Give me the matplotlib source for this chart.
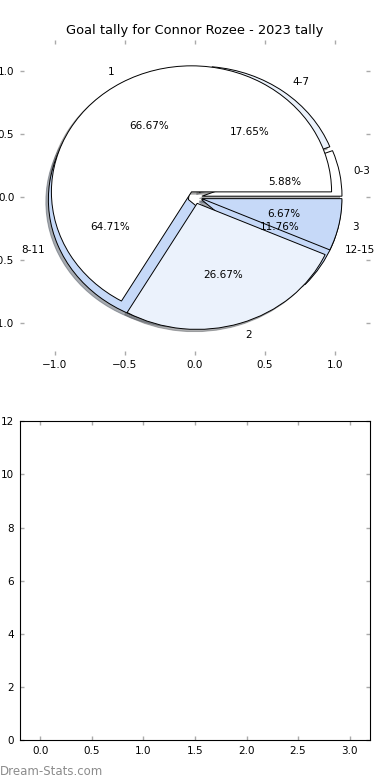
import matplotlib
matplotlib.use("Agg")
import matplotlib.pyplot as plt

# goal tally per game (inner pie) and per quarter-time bucket (outer pie)
game_labels = ['1', '2', '3']
game_values = [10, 4, 1]
time_labels = ['0-3', '4-7', '8-11', '12-15']
time_values = [1, 3, 11, 2]

white = 'white'
pale = '#ebf2fc'
light = '#c6d9f8'
game_colors = [white, pale, light]
time_colors = [white, pale, light, light]

plt.rcParams['font.family'] = 'DejaVu Sans'
plt.rcParams['font.size'] = 7.5

fig = plt.figure(figsize=(3.9, 7.8), dpi=100)
ax1 = fig.add_axes([0.051, 0.545, 0.898, 0.404])
ax2 = fig.add_axes([0.051, 0.051, 0.898, 0.409])

wedge_style = {'edgecolor': 'black', 'linewidth': 0.7}
shadow_style = {'ox': -0.013, 'oy': -0.013, 'shade': 0.6}

# time buckets go underneath, games on top
ax1.pie(time_values, labels=time_labels, colors=time_colors, autopct='%1.2f%%',
        explode=[0.05] * len(time_values), shadow=shadow_style,
        wedgeprops=wedge_style, textprops={'fontsize': 7.5})
ax1.pie(game_values, labels=game_labels, colors=game_colors, autopct='%1.2f%%',
        explode=[0.05] * len(game_values), shadow=shadow_style,
        wedgeprops=wedge_style, textprops={'fontsize': 7.5})

ax1.set_aspect('auto')
ax1.set_xlim(-1.25, 1.25)
ax1.set_ylim(-1.25, 1.25)
ax1.set_xticks([-1.0, -0.5, 0.0, 0.5, 1.0])
ax1.set_yticks([-1.0, -0.5, 0.0, 0.5, 1.0])
ax1.set_frame_on(False)
ax1.set_title('Goal tally for Connor Rozee - 2023 tally', fontsize=9.4, pad=4)

ax2.set_xlim(-0.2, 3.2)
ax2.set_ylim(0, 12)
ax2.set_xticks([0.0, 0.5, 1.0, 1.5, 2.0, 2.5, 3.0])
ax2.set_xticklabels(['0.0', '0.5', '1.0', '1.5', '2.0', '2.5', '3.0'])
ax2.set_yticks(range(0, 13, 2))
for sp in ax2.spines.values():
    sp.set_linewidth(0.8)

for ax in (ax1, ax2):
    ax.tick_params(direction='in', top=True, right=True, length=3, width=1,
                   color='#aaaaaa', labelsize=7.5, pad=4)

fig.text(0.0, 0.002, 'Dream-Stats.com', color='#8c8c8c', fontsize=8.5,
         ha='left', va='bottom')

fig.savefig('out.png', dpi=100)
